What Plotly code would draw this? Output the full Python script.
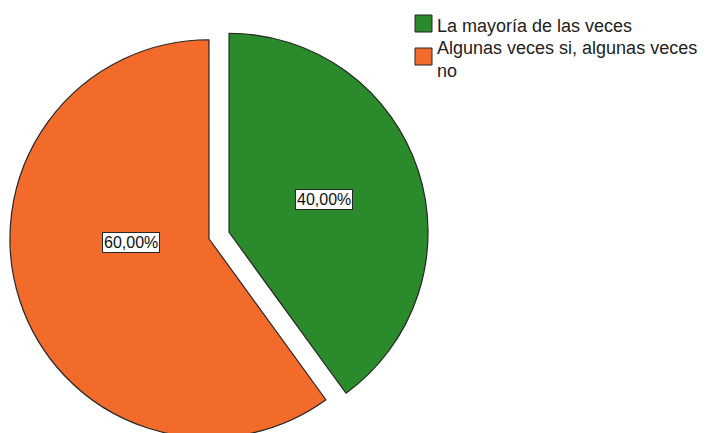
import textwrap
import plotly.graph_objects as go

# Survey answer shares (percent)
categories = ["La mayoría de las veces", "Algunas veces si, algunas veces no"]
shares = [40.0, 60.0]
colors = ["#2b8a2b", "#f26b2b"]

# Figure size in px (slightly taller than the window so the exploded slice runs off the bottom)
W, H = 712, 446

# Pie geometry (pixels from the top-left corner)
PULL = 0.053
CX, CY = 219.0, 235.5
R = 199.0
HALF = R * (1 + PULL)

# Percentage label anchors and legend layout (pixels)
LABEL_POS = [(324, 199), (131, 242)]
LEG_BOX_X = 415
LEG_BOX_Y = [15, 48]
LEG_BOX_SIZE = 17
LEG_TEXT_X = 435
LEG_TEXT_Y = [26, 59]

FONT = "Arial, Liberation Sans, sans-serif"
OUTLINE = "#262626"


def fx(x):
    return x / W


def fy(y):
    return 1 - y / H


fig = go.Figure(
    go.Pie(
        labels=categories,
        values=shares,
        sort=False,
        direction="clockwise",
        rotation=0,
        pull=[PULL] * len(shares),
        marker=dict(colors=colors, line=dict(color=OUTLINE, width=1.2)),
        textinfo="none",
        hoverinfo="label+percent",
        showlegend=False,
        domain=dict(x=[fx(CX - HALF), fx(CX + HALF)], y=[fy(CY + HALF), fy(CY - HALF)]),
    )
)

total = sum(shares)
annotations = []
shapes = []

# Boxed percentage labels
for v, (lx, ly) in zip(shares, LABEL_POS):
    txt = f"{100 * v / total:.2f}".replace(".", ",") + "%"
    annotations.append(
        dict(
            x=fx(lx), y=fy(ly), xref="paper", yref="paper",
            xanchor="center", yanchor="middle",
            text=txt, showarrow=False,
            font=dict(family=FONT, size=16, color="#111111"),
            bgcolor="white", bordercolor=OUTLINE, borderwidth=1, borderpad=1,
        )
    )

# Legend: coloured squares with wrapped category names
for cat, col, by, ty in zip(categories, colors, LEG_BOX_Y, LEG_TEXT_Y):
    shapes.append(
        dict(
            type="rect", xref="paper", yref="paper",
            x0=fx(LEG_BOX_X), x1=fx(LEG_BOX_X + LEG_BOX_SIZE),
            y0=fy(by + LEG_BOX_SIZE), y1=fy(by),
            fillcolor=col, line=dict(color=OUTLINE, width=1),
        )
    )
    annotations.append(
        dict(
            x=fx(LEG_TEXT_X), y=fy(ty), xref="paper", yref="paper",
            xanchor="left", yanchor="middle", align="left",
            text="<br>".join(textwrap.wrap(cat, 31)), showarrow=False,
            font=dict(family=FONT, size=18, color="#222222"),
        )
    )

fig.update_layout(
    width=W, height=H,
    margin=dict(l=0, r=0, t=0, b=0),
    paper_bgcolor="white", plot_bgcolor="white",
    showlegend=False,
    annotations=annotations,
    shapes=shapes,
)

fig.write_html(
    "out.html",
    post_script=(
        "document.body.style.margin='0';"
        "document.body.style.overflow='hidden';"
        "document.documentElement.style.overflow='hidden';"
    ),
)
